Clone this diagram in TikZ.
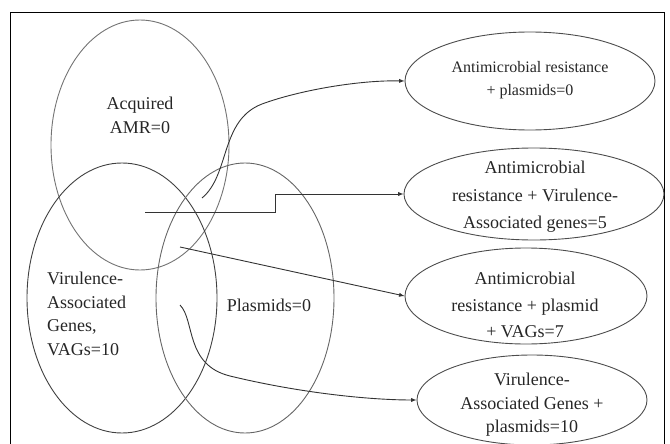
\documentclass[tikz,border=0pt]{standalone}
\usepackage{fontspec}
\setmainfont{Liberation Serif}
\usepackage{tikz}
\usetikzlibrary{shapes.geometric, arrows, positioning, calc}

\begin{document}
\begin{tikzpicture}[x=1pt, y=-1pt,
    venn/.style={ellipse, draw, line width=0.9pt, inner sep=0pt},
    result/.style={ellipse, draw=black!70, line width=0.9pt, inner sep=0pt},
    txt/.style={align=center, inner sep=0pt, text=black!85, font=\fontsize{18}{27}\selectfont},
    link/.style={-latex, line width=0.9pt, draw=black!80}]
        \useasboundingbox (0,0) rectangle (670,444);
        % frame, open at the bottom
        \draw[line width=0.9pt] (10,444) -- (10,12) -- (664,12) -- (664,444);

        % the three sets
        \node (amr) [venn, draw=black!55, minimum width=178pt, minimum height=250pt] at (140,145) {};
        \node (vag) [venn, draw=black!75, minimum width=190pt, minimum height=270pt] at (122,298) {};
        \node (pla) [venn, draw=black!60, minimum width=178pt, minimum height=270pt] at (245,298) {};

        \node (amrtxt) [txt, font=\fontsize{18}{24}\selectfont] at (140,115) {Acquired\\AMR=0};
        \node (vagtxt) [txt, align=left, anchor=west, font=\fontsize{18}{23.5}\selectfont] at (47,314) {Virulence-\\Associated\\Genes,\\VAGs=10};
        \node (platxt) [txt] at (269,305) {Plasmids=0};

        % the overlaps
        \node (e1) [result, minimum width=250pt, minimum height=98pt] at (530,81) {};
        \node (e2) [result, minimum width=260pt, minimum height=92pt] at (534,194) {};
        \node (e3) [result, minimum width=242pt, minimum height=96pt] at (526,296) {};
        \node (e4) [result, minimum width=230pt, minimum height=90pt] at (532,400) {};

        \node (e1txt) [txt, font=\fontsize{16}{23}\selectfont] at (530,80) {Antimicrobial resistance\\+ plasmids=0};
        \node (e2txt) [txt, font=\fontsize{18}{27.5}\selectfont] at (535,197) {Antimicrobial\\resistance + Virulence-\\Associated genes=5};
        \node (e3txt) [txt, font=\fontsize{18}{26.5}\selectfont] at (525,305) {Antimicrobial\\resistance + plasmid\\+ VAGs=7};
        \node (e4txt) [txt, font=\fontsize{18}{23.5}\selectfont] at (532,405) {Virulence-\\Associated Genes +\\plasmids=10};

        % where the links start
        \coordinate (s1) at (202,198);
        \coordinate (s2) at (145,212);
        \coordinate (s3) at (180,247);
        \coordinate (s4) at (180,305);

        \draw[link] (s1) .. controls (230,175) and (220,120) .. (262,104) .. controls (300,90) and (360,80) .. (e1.west);
        \draw[link] (s2) -- ++(130,0) |- (e2.west);
        \draw[link] (s3) -- (e3.west);
        \draw[link] (s4) .. controls (195,320) and (185,365) .. (230,376) .. controls (300,393) and (370,400) .. (e4.west);
    \end{tikzpicture}
\end{document}
